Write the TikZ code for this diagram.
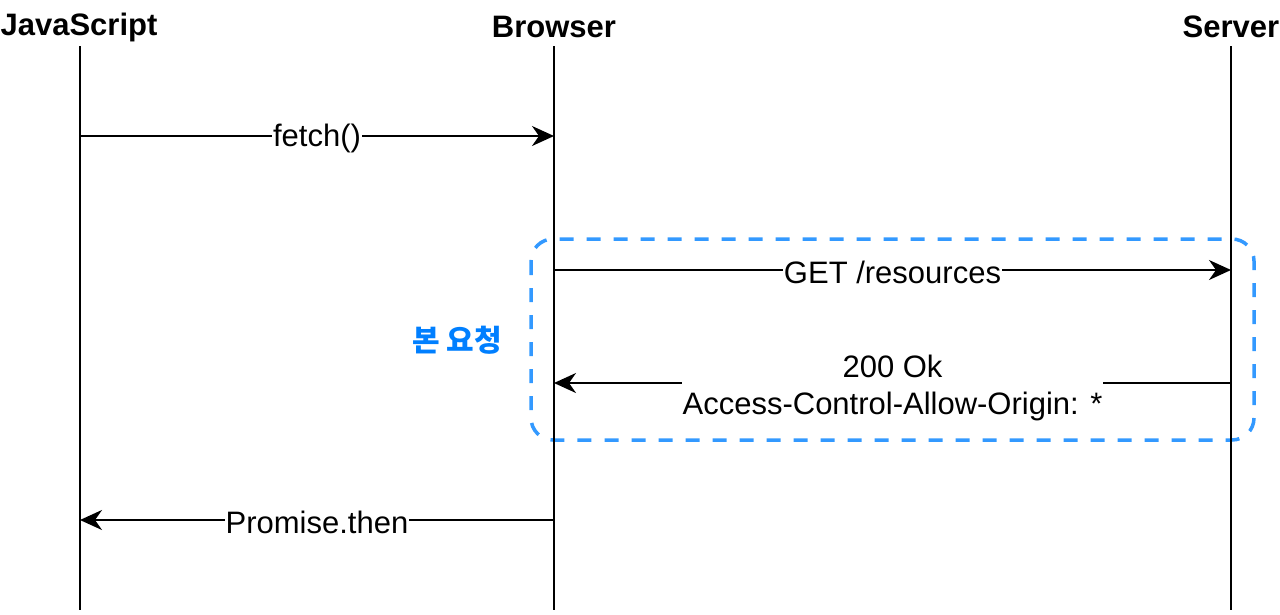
\documentclass[tikz,border=0pt]{standalone}
\usepackage{fontspec}
\setmainfont{Liberation Sans}
\newfontfamily\cjk{Noto Sans CJK KR}
\usetikzlibrary{arrows.meta}
\definecolor{boxblue}{HTML}{3399FF}
\definecolor{txtblue}{HTML}{007FFF}
\tikzset{
  lifeline/.style={line width=2pt, black},
  msg/.style={line width=2pt, -{Stealth[length=22pt,width=20pt,inset=7pt]}},
  msglabel/.style={fill=white, inner sep=1pt, font=\fontsize{31}{37}\selectfont, align=center, yshift=-2pt},
  title/.style={font=\bfseries\fontsize{31}{36}\selectfont, inner sep=0pt},
  frame/.style={draw=boxblue, line width=3.5pt, dash pattern=on 14pt off 13pt, rounded corners=22pt},
}
\begin{document}
\begin{tikzpicture}[x=1pt,y=-1pt]
\useasboundingbox (0,0) rectangle (1280,614);
% titles
\node[title] (js) at (79,27) {JavaScript};
\node[title] (br) at (554,27) {Browser};
\node[title] (sv) at (1231,27) {Server};
% lifeline ends
\coordinate (jsT) at (80,46); \coordinate (jsB) at (80,610);
\coordinate (brT) at (554,46); \coordinate (brB) at (554,610);
\coordinate (svT) at (1231,46); \coordinate (svB) at (1231,610);
% frame
\draw[frame] (531,239) rectangle (1254,440);
\draw[lifeline] (jsT) -- (jsB);
\draw[lifeline] (brT) -- (brB);
\draw[lifeline] (svT) -- (svB);
% messages
\coordinate (m1a) at (80,136); \coordinate (m1b) at (554,136);
\coordinate (m2a) at (554,270); \coordinate (m2b) at (1231,270);
\coordinate (m3a) at (1231,383); \coordinate (m3b) at (554,383);
\coordinate (m4a) at (554,520); \coordinate (m4b) at (80,520);
\draw[msg] (m1a) -- node[msglabel] (l1) {fetch()} (m1b);
\draw[msg] (m2a) -- node[msglabel] (l2) {GET /resources} (m2b);
\draw[msg] (m3a) -- node[msglabel, pos=0.5, yshift=-3pt] (l3) {200 Ok\\Access-Control-Allow-Origin: *} (m3b);
\draw[msg] (m4a) -- node[msglabel] (l4) {Promise.then} (m4b);
% side label
\node[text=txtblue, font=\cjk\bfseries\fontsize{30}{34}\selectfont] (lbl) at (457,340) {본 요청};
\end{tikzpicture}
\end{document}
